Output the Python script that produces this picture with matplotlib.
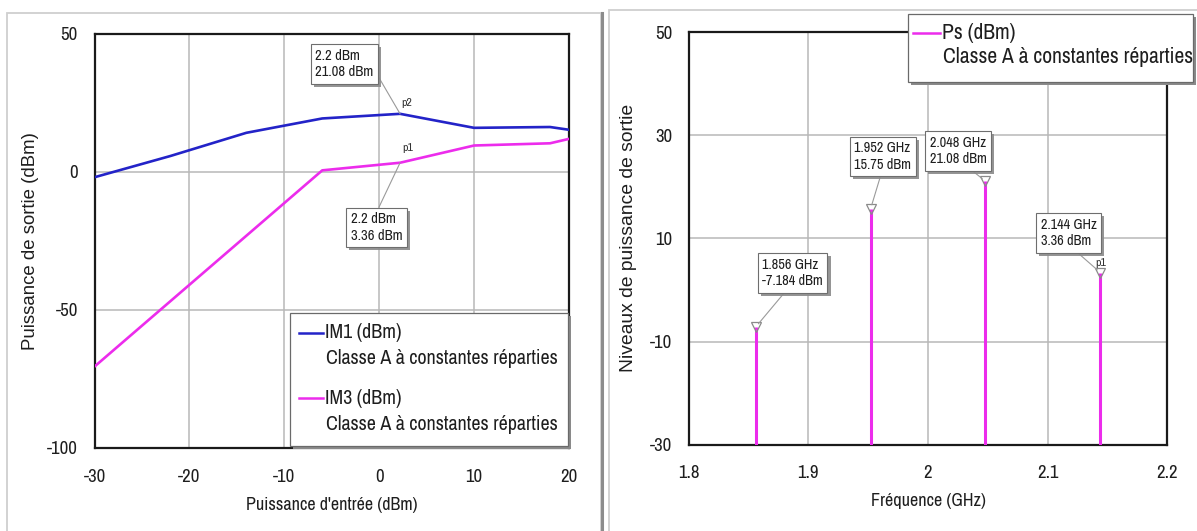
import matplotlib
matplotlib.use("Agg")
import matplotlib.pyplot as plt
import matplotlib.patheffects as pe
from matplotlib.patches import Rectangle
from matplotlib.lines import Line2D
from matplotlib import font_manager

# ---- data -------------------------------------------------------------
pin = [-30, -22, -14, -6, 2.2, 10, 18, 20]             # input power (dBm)
im1 = [-1.9, 5.8, 14.2, 19.4, 21.08, 16.0, 16.3, 15.3]  # IM1 (dBm)
im3 = [-70.5, -46.8, -23.1, 0.6, 3.36, 9.6, 10.4, 12.0]  # IM3 (dBm)
marker_idx = 4                                          # p1 / p2 markers

freqs = [1.856, 1.952, 2.048, 2.144]                    # GHz
ps = [-7.184, 15.75, 21.08, 3.36]                       # dBm

pin_ticks = [-30, -20, -10, 0, 10, 20]
pout_ticks = [-100, -50, 0, 50]
freq_ticks = [1.8, 1.9, 2.0, 2.1, 2.2]
freq_tick_labels = ["1.8", "1.9", "2", "2.1", "2.2"]
ps_ticks = [-30, -10, 10, 30, 50]

series_label = "Classe A à constantes réparties"

# ---- styling ----------------------------------------------------------
W, H = 1197, 531
BLUE = "#2323c8"
MAG = "#ec2cec"
TXT = "#1e1e1e"
GRID = "#b8b8b8"

names = {f.name for f in font_manager.fontManager.ttflist}
NARROW = [n for n in ("Liberation Sans Narrow", "Archivo Narrow", "Roboto Condensed")
          if n in names][:1] + ["Liberation Sans", "DejaVu Sans"]
REG = ["Liberation Sans", "DejaVu Sans"]
plt.rcParams["font.family"] = NARROW
plt.rcParams["axes.unicode_minus"] = False

fig = plt.figure(figsize=(W / 100, H / 100), dpi=100)
fig.patch.set_facecolor("white")


def rect(l, t, r, b):
    return [l / W, 1 - b / H, (r - l) / W, (b - t) / H]


def fp(x, y):
    return (x / W, 1 - y / H)


def style_axes(ax):
    for s in ax.spines.values():
        s.set_linewidth(1.6)
        s.set_color("#1a1a1a")
    ax.grid(True, color=GRID, lw=1.1)
    ax.set_axisbelow(True)
    ax.tick_params(length=0, labelsize=13.5, labelcolor=TXT)
    ax.tick_params(axis="x", pad=15)
    ax.tick_params(axis="y", pad=12)


# ---- panel frames -----------------------------------------------------
fig.patches.append(Rectangle((7 / W, -0.02), (601 - 7) / W, 1 - 13 / H + 0.02,
                             transform=fig.transFigure, fill=False,
                             ec="#cfcfcf", lw=1.3, zorder=0.5))
fig.lines.append(Line2D([602 / W, 602 / W], [0, 1 - 13 / H],
                        transform=fig.transFigure, color="#8c8c8c", lw=2.2))
fig.patches.append(Rectangle((609 / W, -0.02), (1200 - 609) / W, 1 - 10 / H + 0.02,
                             transform=fig.transFigure, fill=False,
                             ec="#cfcfcf", lw=1.3, zorder=0.5))

# ---- left: IM1 / IM3 vs input power -----------------------------------
ax1 = fig.add_axes(rect(94.5, 34, 569, 448))
ax1.plot(pin, im1, color=BLUE, lw=1.9, zorder=3)
ax1.plot(pin, im3, color=MAG, lw=1.9, zorder=3)
ax1.set_xlim(-30, 20)
ax1.set_ylim(-100, 50)
ax1.set_xticks(pin_ticks)
ax1.set_yticks(pout_ticks)
style_axes(ax1)
ax1.set_xlabel("Puissance d'entrée (dBm)", fontsize=13, color=TXT, va="center")
ax1.xaxis.set_label_coords(0.5, -0.1365)
ax1.set_ylabel("Puissance de sortie (dBm)", fontsize=13.4, color=TXT,
                family=REG, va="center")
ax1.yaxis.set_label_coords(-0.134, 0.5)

box = dict(boxstyle="square,pad=0.32", fc="white", ec="#6e6e6e", lw=0.8)
shadow = [pe.withSimplePatchShadow(offset=(2.2, -2.2), shadow_rgbFace="#8a8a8a", alpha=0.9)]
lead = dict(arrowstyle="-", color="#9a9a9a", lw=0.8, shrinkA=0, shrinkB=0)

xm = pin[marker_idx]
for yv, name, centre, rel, ptxt in [
    (im1[marker_idx], "p2", (344.5, 64), (1.0, 0.35), (407, 103)),
    (im3[marker_idx], "p1", (376.5, 227.5), (0.5, 1.0), (408, 148)),
]:
    a = ax1.annotate(f"{xm:g} dBm\n{yv:g} dBm", xy=(xm, yv), xycoords="data",
                     xytext=(centre[0], H - centre[1]), textcoords="figure pixels",
                     ha="center", va="center", ma="left", fontsize=10.5, color=TXT,
                     bbox=box, arrowprops=dict(lead, relpos=rel), zorder=6,
                     annotation_clip=False)
    a.get_bbox_patch().set_path_effects(shadow)
    fig.text(*fp(*ptxt), name, fontsize=8.5, color="#333333", ha="center", va="center")


# legend boxes with a drop shadow
def draw_legend(l, t, r, b, entries, fs):
    fig.patches.append(Rectangle(fp(l + 3, b + 3), (r - l) / W, (b - t) / H,
                                 transform=fig.transFigure, fc="#8a8a8a", ec="none",
                                 zorder=4))
    fig.patches.append(Rectangle(fp(l, b), (r - l) / W, (b - t) / H,
                                 transform=fig.transFigure, fc="white", ec="#6a6a6a",
                                 lw=0.9, zorder=4.1))
    for (x0, x1, y, color, name, x2, y2) in entries:
        fig.lines.append(Line2D([x0 / W, x1 / W], [1 - y / H] * 2,
                                transform=fig.transFigure, color=color, lw=1.8,
                                zorder=4.2))
        fig.text(*fp(x1 + 2, y), name, fontsize=fs, color=TXT, ha="left",
                 va="center", zorder=4.3)
        fig.text(*fp(x2, y2), series_label, fontsize=fs, color=TXT, ha="left",
                 va="center", zorder=4.3)


draw_legend(290, 313, 568, 446,
            [(299, 323, 333, BLUE, "IM1 (dBm)", 326, 358),
             (299, 323, 398, MAG, "IM3 (dBm)", 326, 424)], 14.4)

# ---- right: output spectrum -------------------------------------------
ax2 = fig.add_axes(rect(688.7, 32.2, 1167.4, 444.6))
ax2.vlines(freqs, -30, ps, color=MAG, lw=2.2, zorder=3)
ax2.plot(freqs, ps, ls="none", marker="v", ms=7, mfc="none", mec="#8a8a8a",
         mew=0.9, zorder=4)
ax2.set_xlim(1.8, 2.2)
ax2.set_ylim(-30, 50)
ax2.set_xticks(freq_ticks, freq_tick_labels)
ax2.set_yticks(ps_ticks)
style_axes(ax2)
ax2.set_xlabel("Fréquence (GHz)", fontsize=13, color=TXT, va="center")
ax2.xaxis.set_label_coords(0.5, -0.1368)
ax2.set_ylabel("Niveaux de puissance de sortie", fontsize=13.9, color=TXT,
                family=REG, va="center")
ax2.yaxis.set_label_coords(-0.1255, 0.5)

centres = [(792.5, 273), (883, 156.5), (958, 151), (1068.5, 233)]
rels = [(0.43, 0.0), (0.48, 0.0), (0.65, 0.0), (0.57, 0.0)]
for f, v, c, rp in zip(freqs, ps, centres, rels):
    a = ax2.annotate(f"{f:g} GHz\n{v:g} dBm", xy=(f, v), xycoords="data",
                     xytext=(c[0], H - c[1]), textcoords="figure pixels",
                     ha="center", va="center", ma="left", fontsize=10.3, color=TXT,
                     bbox=box, arrowprops=dict(lead, relpos=rp, shrinkB=3), zorder=6,
                     annotation_clip=False)
    a.get_bbox_patch().set_path_effects(shadow)
fig.text(*fp(1101, 263), "p1", fontsize=8.5, color="#333333", ha="center", va="center")

draw_legend(908, 14, 1193, 82,
            [(913, 940, 33, MAG, "Ps (dBm)", 943, 57)], 15.5)

fig.savefig("out.png", dpi=100, facecolor="white")
